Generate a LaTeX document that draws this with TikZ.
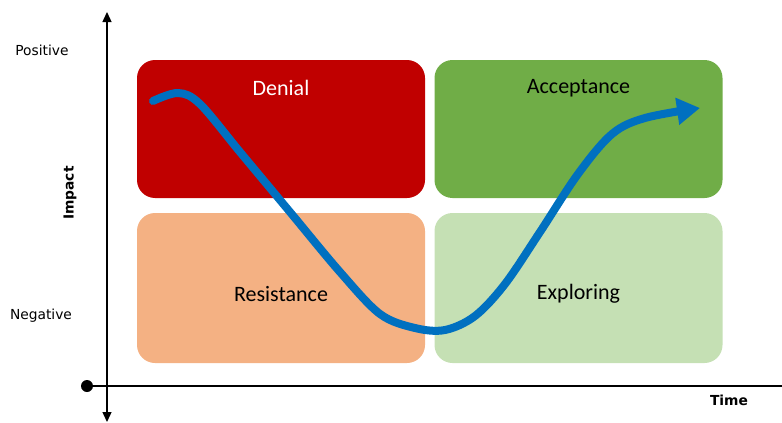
\documentclass[tikz,border=0pt]{standalone}
\usepackage{fontspec}
\setmainfont{DejaVu Sans}
\newfontfamily\boxfont{Carlito}
\usetikzlibrary{arrows.meta}
\definecolor{cDenial}{HTML}{C00000}
\definecolor{cAccept}{HTML}{70AD47}
\definecolor{cResist}{HTML}{F4B183}
\definecolor{cExplore}{HTML}{C5E0B4}
\definecolor{cCurve}{HTML}{0070C0}
\begin{document}
\begin{tikzpicture}[x=1pt,y=-1pt,
  quad/.style={draw=none,rounded corners=18pt,minimum width=288pt,minimum height=138pt,inner sep=0pt},
  quadlow/.style={quad,minimum height=150pt},
  boxlabel/.style={font=\boxfont\fontsize{22}{24}\selectfont,inner sep=0pt},
  axlabel/.style={font=\fontsize{13.8}{16}\selectfont,inner sep=0pt},
  axis/.style={line width=1.3pt}]
\useasboundingbox (0,0) rectangle (782,423);
\node[quad,fill=cDenial] (den) at (281,129) {};
\node[quad,fill=cAccept] (acc) at (578.5,129) {};
\node[quadlow,fill=cResist] (res) at (281,288) {};
\node[quadlow,fill=cExplore] (exp) at (578.5,288) {};
\node[boxlabel,text=white] (tden) at (281,88) {Denial};
\node[boxlabel] (tacc) at (578.5,88) {Acceptance};
\node[boxlabel] (tres) at (281,294) {Resistance};
\node[boxlabel] (texp) at (578.5,294) {Exploring};
% axes
\coordinate (vtop) at (107,12);
\coordinate (vbot) at (107,422);
\coordinate (hleft) at (87,386);
\coordinate (hright) at (782,386);
\draw[axis,-{Triangle[length=10pt,width=9pt]}] (107,200) -- (vtop);
\draw[axis,-{Triangle[length=10pt,width=9pt]}] (107,200) -- (vbot);
\draw[axis] (hleft) -- (hright);
\fill (hleft) circle (6pt);
\node[axlabel] (pos) at (42,50) {Positive};
\node[axlabel] (neg) at (41,316) {Negative};
\node[axlabel,font=\bfseries\fontsize{13.8}{16}\selectfont,rotate=90] (imp) at (70,193) {Impact};
\node[axlabel,font=\bfseries\fontsize{13.8}{16}\selectfont] (time) at (729,400) {Time};
% curve
\draw[cCurve,line width=8pt,line cap=round,-{Triangle[length=23pt,width=26pt]}]
  plot[smooth,tension=0.55] coordinates {(153,101) (178,93) (200,104) (240,152) (290,212) (340,272) (380,314) (415,328) (445,330) (475,316) (505,284) (540,232) (578,174) (612,134) (645,118) (700,108)};
\end{tikzpicture}
\end{document}
